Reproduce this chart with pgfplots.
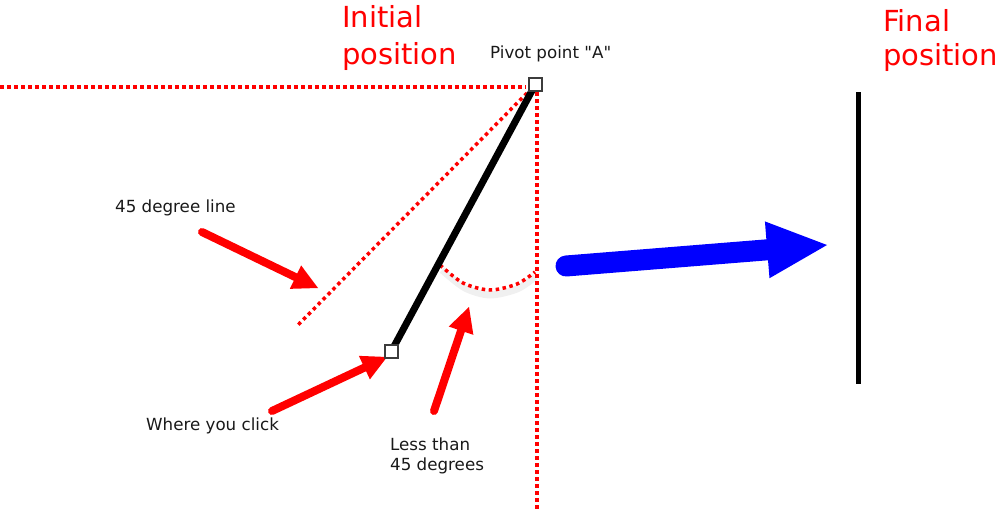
\documentclass[border=0pt]{standalone}
\usepackage{pgfplots}
\pgfplotsset{compat=1.18}
\usetikzlibrary{arrows.meta}
\usepackage{fontspec}
\setmainfont{DejaVu Sans}[Ligatures=TeXReset]
\definecolor{pure red}{RGB}{255,0,0}
\definecolor{pure blue}{RGB}{0,0,255}
\definecolor{sqborder}{RGB}{60,60,60}
\tikzset{
  dotted red/.style={pure red, line width=3.5pt, dash pattern=on 3.5pt off 3.5pt, mark=none},
  small/.style={anchor=base west, inner sep=0pt, font=\fontsize{16.7}{20}\selectfont, text=black!90},
  big/.style={anchor=base west, inner sep=0pt, font=\fontsize{29}{37}\selectfont, text=pure red},
}
\begin{document}
\begin{tikzpicture}
\begin{axis}[scale only axis, width=1001pt, height=511pt,
  xmin=0, xmax=1001, ymin=0, ymax=511, y dir=reverse,
  hide axis, clip=true,
]
\addplot[draw=none, mark=none] coordinates {(0,0) (1001,511)};
% dotted guide lines
\addplot[dotted red] coordinates {(0,87) (526,87)};
\addplot[dotted red] coordinates {(537,92) (537,511)};
\addplot[dotted red] coordinates {(527,93) (297,326)};
% shadow of arc
\addplot[black, opacity=0.06, line width=7pt, smooth, mark=none] coordinates {(442,270) (465,288) (490,295) (517,289) (535,277)};
\addplot[dotted red, smooth] coordinates {(440,265) (463,283) (490,290) (517,284) (535,272)};
% black bar
\addplot[black, line width=7pt, mark=none] coordinates {(535,85) (391,352)};
% squares
\addplot[only marks, mark=square*, mark size=6.3pt, mark options={fill=white, draw=sqborder, line width=1.5pt}] coordinates {(535.5,84.5) (391.5,351.5)};
% final position bar
\addplot[black, line width=5pt, mark=none] coordinates {(858,92) (858,384)};
% blue arrow
\addplot[pure blue, line width=21pt, line cap=round, mark=none, -{Triangle[length=60pt, width=57pt, line width=0pt]}] coordinates {(566,266) (827,245)};
% red arrows
\addplot[pure red, line width=8pt, line cap=round, mark=none, -{Triangle[length=25pt, width=26pt, line width=0pt]}] coordinates {(202,232) (318,288)};
\addplot[pure red, line width=8pt, line cap=round, mark=none, -{Triangle[length=25pt, width=26pt, line width=0pt]}] coordinates {(272,411) (387,357)};
\addplot[pure red, line width=8pt, line cap=round, mark=none, -{Triangle[length=25pt, width=26pt, line width=0pt]}] coordinates {(434,411) (469,307)};
% texts
\node[big] at (axis cs:342,28) {Initial};
\node[big] at (axis cs:342,64) {position};
\node[big] at (axis cs:883,32) {Final};
\node[big] at (axis cs:883,66) {position};
\node[small] at (axis cs:490,59) {Pivot point "A"};
\node[small] at (axis cs:115,212) {45 degree line};
\node[small] at (axis cs:146,430) {Where you click};
\node[small] at (axis cs:390,450) {Less than};
\node[small] at (axis cs:390,470) {45 degrees};
\end{axis}
\end{tikzpicture}
\end{document}
